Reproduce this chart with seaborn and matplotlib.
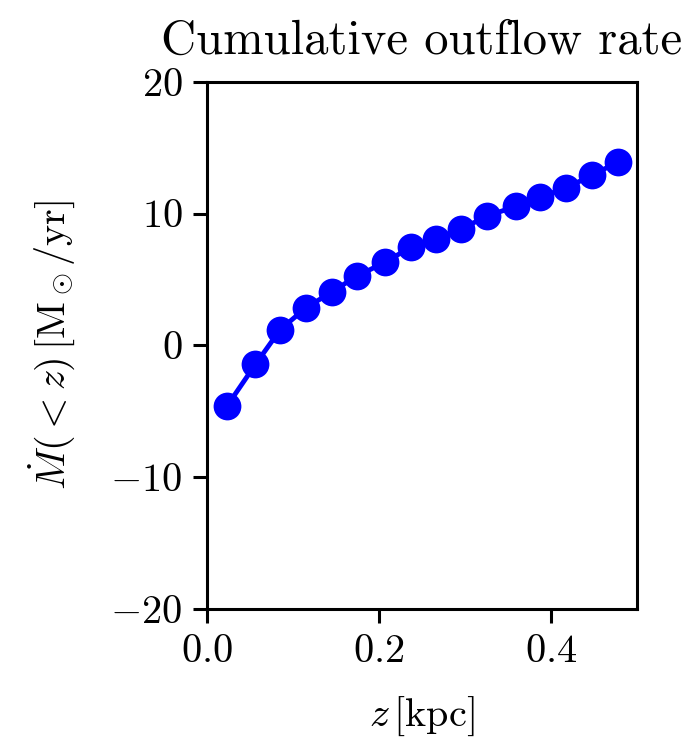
import matplotlib
matplotlib.use("Agg")
import matplotlib.pyplot as plt
import seaborn as sns
import pandas as pd

z_kpc = [0.023, 0.056, 0.085, 0.115, 0.145, 0.174, 0.207, 0.237, 0.266, 0.296,
         0.326, 0.359, 0.388, 0.418, 0.448, 0.478]
mdot = [-4.6, -1.45, 1.2, 2.85, 4.05, 5.25, 6.3, 7.45, 8.1, 8.85,
        9.8, 10.55, 11.25, 11.95, 12.9, 13.9]
x_ticks = [0.0, 0.2, 0.4]
y_ticks = [-20, -10, 0, 10, 20]

sns.set_theme(style="ticks")
plt.rcParams.update({
    "font.family": "serif",
    "font.serif": ["cmr10", "DejaVu Serif"],
    "mathtext.fontset": "cm",
    "axes.formatter.use_mathtext": True,
    "font.size": 30,
    "axes.unicode_minus": True,
    "text.color": "black",
    "axes.labelcolor": "black",
    "xtick.color": "black",
    "ytick.color": "black",
    "xtick.labelcolor": "black",
    "ytick.labelcolor": "black",
})

df = pd.DataFrame({"z": z_kpc, "mdot": mdot})

fig = plt.figure(figsize=(6.98, 7.39), dpi=100)
ax = fig.add_axes([0.297, 0.176, 0.615, 0.7134])
sns.lineplot(data=df, x="z", y="mdot", ax=ax, color="blue", marker="o",
             markersize=20, markeredgewidth=0, linewidth=3.5)
ax.set_xlim(0, 0.5)
ax.set_ylim(-20, 20)
ax.set_xticks(x_ticks)
ax.set_yticks(y_ticks)
ax.tick_params(labelsize=29, length=10, width=2.2, direction="out", pad=8)
for s in ax.spines.values():
    s.set_linewidth(2.2)
    s.set_color("black")
ax.set_title("Cumulative outflow rate", fontsize=35, pad=20, color="black")
ax.set_xlabel(r"$z\,[\mathrm{kpc}]$", fontsize=29, labelpad=18)
ax.set_ylabel(r"$\dot{M}(<z)\,[\mathrm{M}_\odot/\mathrm{yr}]$", fontsize=29, labelpad=24)
fig.savefig("out.png", dpi=100)
